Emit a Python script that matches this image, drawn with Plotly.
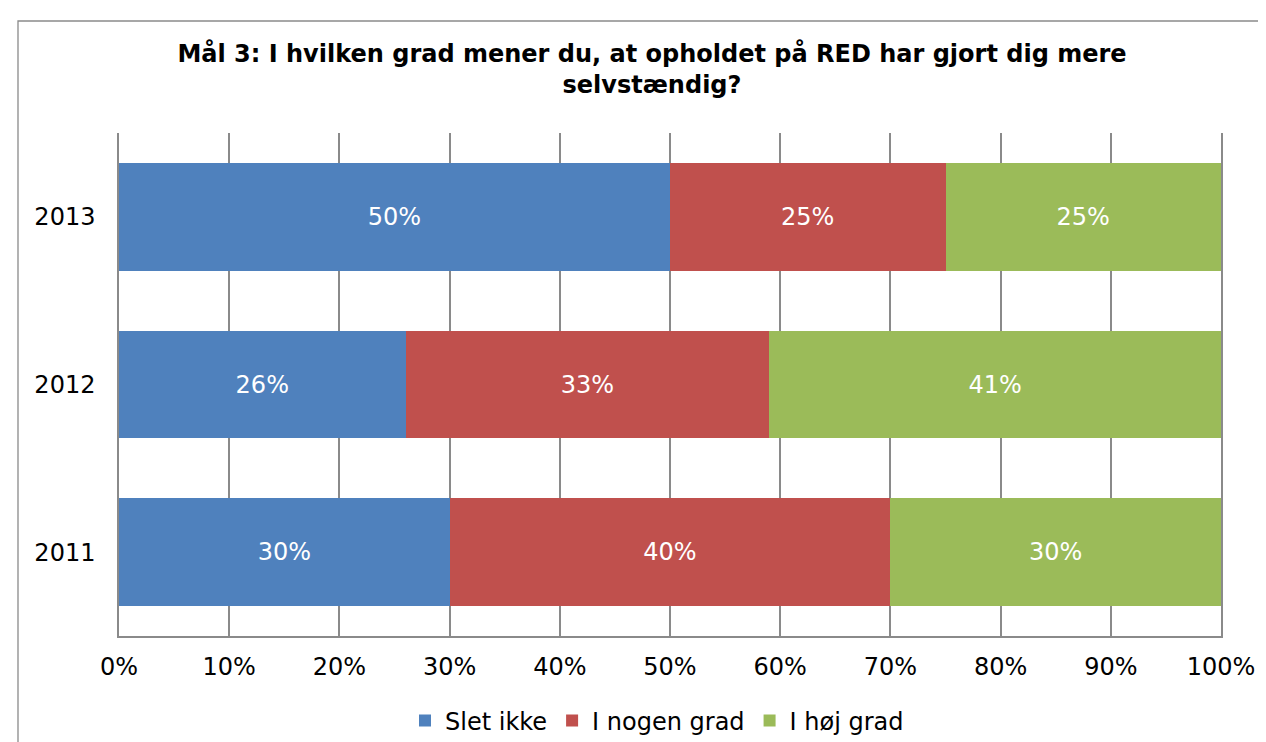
import plotly.graph_objects as go

years = ["2011", "2012", "2013"]
series_names = ["Slet ikke", "I nogen grad", "I høj grad"]
slet_ikke = [30, 26, 50]
i_nogen_grad = [40, 33, 25]
i_hoej_grad = [30, 41, 25]
x_ticks = [0, 10, 20, 30, 40, 50, 60, 70, 80, 90, 100]
colors = ["#4F81BD", "#C0504D", "#9BBB59"]
title_text = "Mål 3: I hvilken grad mener du, at opholdet på RED har gjort dig mere<br>selvstændig?"

W, H = 1266, 742
L, R, T, B = 111, 1213, 125, 628

FONT = "DejaVu Sans, Verdana, sans-serif"

fig = go.Figure()
for name, vals, col in zip(series_names, [slet_ikke, i_nogen_grad, i_hoej_grad], colors):
    fig.add_trace(go.Bar(
        y=years, x=vals, name=name, orientation="h",
        marker=dict(color=col, line=dict(width=0)),
        text=[f"{v}%" for v in vals],
        textposition="inside", insidetextanchor="middle",
        textfont=dict(color="white", size=24, family=FONT),
        hoverinfo="skip",
    ))

def px_x(p):
    return (p - L) / (R - L)

def px_y(p):
    return (B - p) / (B - T)

fig.update_layout(
    width=W, height=H,
    barmode="stack",
    bargap=0.358,
    plot_bgcolor="white", paper_bgcolor="white",
    margin=dict(l=L, r=W - R, t=T, b=H - B, autoexpand=False),
    font=dict(family=FONT, size=24, color="black"),
    title=dict(
        text=title_text,
        x=644 / W, xref="container", xanchor="center",
        y=1 - 54 / H, yref="container", yanchor="top",
        font=dict(family=FONT, size=24, color="black", weight="bold"),
    ),
    xaxis=dict(
        range=[0, 100], tickvals=x_ticks, ticktext=[f"{v}%" for v in x_ticks],
        showgrid=True, gridcolor="#8a8a8a", gridwidth=1.5,
        showline=True, linecolor="#8a8a8a", linewidth=1.5,
        zeroline=False, ticks="", ticklabelstandoff=8,
        tickfont=dict(size=24, color="black", family=FONT),
        fixedrange=True,
    ),
    yaxis=dict(
        type="category", categoryorder="array", categoryarray=years,
        showgrid=False, showline=True, mirror=True,
        linecolor="#8a8a8a", linewidth=1.5,
        ticks="", ticklabelstandoff=17,
        tickfont=dict(size=24, color="black", family=FONT),
        fixedrange=True,
    ),
    legend=dict(
        orientation="h", x=px_x(649), xanchor="center",
        y=px_y(713), yanchor="middle",
        font=dict(size=24, family=FONT, color="black"),
        itemclick=False, itemdoubleclick=False,
        traceorder="normal",
    ),
    showlegend=True,
    shapes=[dict(
        type="rect", xref="paper", yref="paper",
        x0=px_x(10), x1=px_x(1400), y0=px_y(900), y1=px_y(13),
        line=dict(color="#8a8a8a", width=1.3), fillcolor="rgba(0,0,0,0)",
        layer="below",
    )],
)

fig.write_html("out.html", config={"displayModeBar": False})
